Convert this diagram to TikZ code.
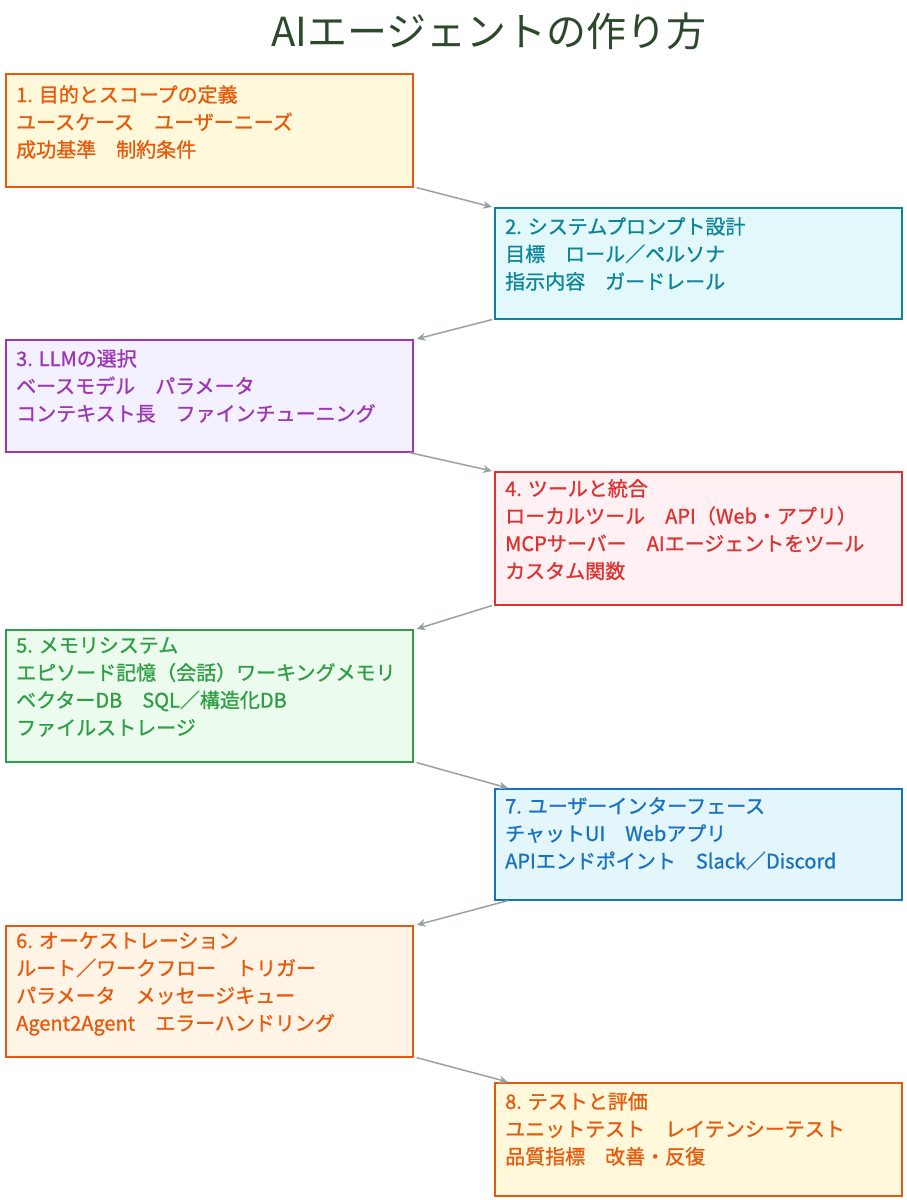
\documentclass[tikz,border=0pt]{standalone}
\usepackage{fontspec}
\newfontfamily\jp{Noto Sans CJK JP}[FakeBold=1.0]
\newfontfamily\jpt{Noto Sans CJK JP}
\usetikzlibrary{arrows.meta}
\definecolor{c1f}{HTML}{FFF8DB}\definecolor{c1d}{HTML}{E8590C}
\definecolor{c2f}{HTML}{E3F8FA}\definecolor{c2d}{HTML}{0C8599}
\definecolor{c3f}{HTML}{F3F0FF}\definecolor{c3d}{HTML}{9C36B5}
\definecolor{c4f}{HTML}{FFF0F3}\definecolor{c4d}{HTML}{E03131}
\definecolor{c5f}{HTML}{EBFBEE}\definecolor{c5d}{HTML}{2F9E44}
\definecolor{c7f}{HTML}{E3F6FC}\definecolor{c7d}{HTML}{1971C2}
\definecolor{c6f}{HTML}{FFF4E6}
\definecolor{ttl}{HTML}{2B4A2B}
\definecolor{arr}{HTML}{9AA0A6}
\tikzset{
 box/.style={draw=#1, line width=1.6pt, minimum width=407pt, anchor=north west, inner sep=0pt},
 txt/.style={anchor=north west, align=left, inner sep=0pt, font=\jp\fontsize{20}{27.5}\selectfont, text=#1},
 conn/.style={draw=arr, line width=1.5pt, -{Stealth[length=9pt,width=8pt]}}
}
\begin{document}
\begin{tikzpicture}[x=1pt,y=-1pt]
\useasboundingbox[fill=white] (0,0) rectangle (907,1200);
\node[font=\jpt\fontsize{40}{44}\selectfont, text=ttl] (t) at (489,31) {AIエージェントの作り方};
\node[box=c1d, fill=c1f, minimum height=113pt] (b1) at (5,73) {};
\node[txt=c1d] (x1) at (16,85) {1. 目的とスコープの定義\\ユースケース　ユーザーニーズ\\成功基準　制約条件};
\node[box=c2d, fill=c2f, minimum height=111pt] (b2) at (494,207) {};
\node[txt=c2d] (x2) at (505,217) {2. システムプロンプト設計\\目標　ロール／ペルソナ\\指示内容　ガードレール};
\node[box=c3d, fill=c3f, minimum height=112pt] (b3) at (5,339) {};
\node[txt=c3d] (x3) at (16,349) {3. LLMの選択\\ベースモデル　パラメータ\\コンテキスト長　ファインチューニング};
\node[box=c4d, fill=c4f, minimum height=133pt] (b4) at (494,471) {};
\node[txt=c4d] (x4) at (505,479) {4. ツールと統合\\ローカルツール　API（Web・アプリ）\\MCPサーバー　AIエージェントをツール\\カスタム関数};
\node[box=c5d, fill=c5f, minimum height=132pt] (b5) at (5,629) {};
\node[txt=c5d] (x5) at (16,637) {5. メモリシステム\\エピソード記憶（会話）ワーキングメモリ\\ベクターDB　SQL／構造化DB\\ファイルストレージ};
\node[box=c7d, fill=c7f, minimum height=111pt] (b7) at (494,788) {};
\node[txt=c7d] (x7) at (505,797) {7. ユーザーインターフェース\\チャットUI　Webアプリ\\APIエンドポイント　Slack／Discord};
\node[box=c1d, fill=c6f, minimum height=131pt] (b6) at (5,925) {};
\node[txt=c1d] (x6) at (16,932) {6. オーケストレーション\\ルート／ワークフロー　トリガー\\パラメータ　メッセージキュー\\Agent2Agent　エラーハンドリング};
\node[box=c1d, fill=c1f, minimum height=113pt] (b8) at (494,1082) {};
\node[txt=c1d] (x8) at (505,1092) {8. テストと評価\\ユニットテスト　レイテンシーテスト\\品質指標　改善・反復};
\draw[conn] ([xshift=3pt]b1.south east) -- ([xshift=-2pt]b2.north west);
\draw[conn] ([xshift=-2pt]b2.south west) -- ([xshift=3pt]b3.north east);
\draw[conn] ([xshift=-4pt]b3.south east) -- ([xshift=-2pt]b4.north west);
\draw[conn] ([xshift=-2pt]b4.south west) -- ([xshift=3pt]b5.north east);
\draw[conn] ([xshift=3pt]b5.south east) -- ([xshift=14pt]b7.north west);
\draw[conn] ([xshift=14pt]b7.south west) -- ([xshift=3pt]b6.north east);
\draw[conn] ([xshift=3pt]b6.south east) -- ([xshift=14pt]b8.north west);
\end{tikzpicture}
\end{document}
